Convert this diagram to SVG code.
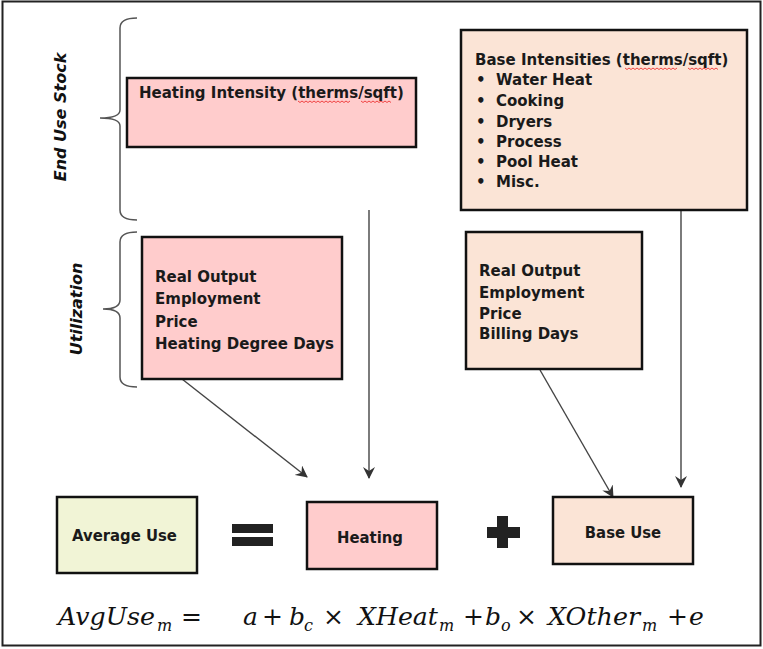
<svg xmlns="http://www.w3.org/2000/svg" width="763" height="649" viewBox="0 0 763 649">
<defs>
<style>
.box{stroke:#111;stroke-width:2.5}
.pink{fill:#FFCCCC}
.peach{fill:#FBE4D6}
.green{fill:#F1F4D6}
.t{font-family:"DejaVu Sans","Verdana",sans-serif;font-weight:bold;font-size:15px;fill:#1a1a1a}
.tb{font-family:"DejaVu Sans Condensed","DejaVu Sans",sans-serif;font-weight:bold;font-size:16.5px;fill:#1a1a1a}
.side{font-family:"DejaVu Sans",sans-serif;font-weight:bold;font-style:italic;font-size:16px;fill:#111}
.brace{fill:none;stroke:#555;stroke-width:1.5}
.conn{fill:none;stroke:#444;stroke-width:1.4}
.f{font-family:"DejaVu Serif","Liberation Serif",serif;font-style:italic;font-size:25px;fill:#111}
.fs{font-family:"DejaVu Serif","Liberation Serif",serif;font-style:italic;font-size:16px;fill:#111}
.op{font-family:"DejaVu Serif","Liberation Serif",serif;font-size:25px;fill:#111}
.sq{fill:none;stroke:#e33;stroke-width:0.9}
</style>
<marker id="arr" viewBox="0 0 12 12" refX="11" refY="6" markerWidth="12" markerHeight="12" markerUnits="userSpaceOnUse" orient="auto">
<path d="M0,0 L12,6 L0,12 L4,6 z" fill="#333"/>
</marker>
</defs>
<rect x="0" y="0" width="763" height="649" fill="#fff"/>
<rect x="2.5" y="1.5" width="758" height="644" fill="none" stroke="#222" stroke-width="2"/>

<g id="braces">
<path class="brace" d="M137,18 Q120,18 120,28 L120,110 Q120,118 100,118 Q120,118 120,126 L120,210 Q120,220 137,220"/>
<path class="brace" d="M137,232 Q120,232 120,242 L120,300 Q120,309 103,309 Q120,309 120,318 L120,377 Q120,387 137,387"/>
<text class="side" transform="translate(60,117) rotate(-90)" text-anchor="middle" dominant-baseline="central">End Use Stock</text>
<text class="side" transform="translate(76,309) rotate(-90)" text-anchor="middle" dominant-baseline="central">Utilization</text>
</g>

<g id="connectors">
<line class="conn" x1="182" y1="379" x2="307" y2="477" marker-end="url(#arr)"/>
<line class="conn" x1="369" y1="210" x2="369" y2="478" marker-end="url(#arr)"/>
<line class="conn" x1="540" y1="370" x2="613" y2="497" marker-end="url(#arr)"/>
<line class="conn" x1="681" y1="210" x2="681" y2="487" marker-end="url(#arr)"/>
</g>

<g id="heating-intensity">
<rect class="box pink" x="127" y="78" width="289" height="69"/>
<text class="t" x="139" y="98">Heating Intensity (therms/sqft)</text>
<path class="sq" d="M298,101 l2,1.5 l2,-1.5 l2,1.5 l2,-1.5 l2,1.5 l2,-1.5 l2,1.5 l2,-1.5 l2,1.5 l2,-1.5 l2,1.5 l2,-1.5 l2,1.5 l2,-1.5 l2,1.5 l2,-1.5 l2,1.5 l2,-1.5 l2,1.5 l2,-1.5 l2,1.5 l2,-1.5 l2,1.5 l2,-1.5 l2,1.5 l2,-1.5"/>
<path class="sq" d="M361,101 l2,1.5 l2,-1.5 l2,1.5 l2,-1.5 l2,1.5 l2,-1.5 l2,1.5 l2,-1.5 l2,1.5 l2,-1.5 l2,1.5 l2,-1.5 l2,1.5 l2,-1.5 l2,1.5"/>
</g>

<g id="base-intensities">
<rect class="box peach" x="461" y="30" width="286" height="180"/>
<text class="t" x="475" y="65">Base Intensities (therms/sqft)</text>
<path class="sq" d="M625,68 l2,1.5 l2,-1.5 l2,1.5 l2,-1.5 l2,1.5 l2,-1.5 l2,1.5 l2,-1.5 l2,1.5 l2,-1.5 l2,1.5 l2,-1.5 l2,1.5 l2,-1.5 l2,1.5 l2,-1.5 l2,1.5 l2,-1.5 l2,1.5 l2,-1.5 l2,1.5 l2,-1.5 l2,1.5 l2,-1.5 l2,1.5 l2,-1.5"/>
<path class="sq" d="M688,68 l2,1.5 l2,-1.5 l2,1.5 l2,-1.5 l2,1.5 l2,-1.5 l2,1.5 l2,-1.5 l2,1.5 l2,-1.5 l2,1.5 l2,-1.5 l2,1.5 l2,-1.5 l2,1.5"/>
<g class="t">
<text x="476" y="85">•</text><text x="496" y="85">Water Heat</text>
<text x="476" y="106">•</text><text x="496" y="106">Cooking</text>
<text x="476" y="127">•</text><text x="496" y="127">Dryers</text>
<text x="476" y="147">•</text><text x="496" y="147">Process</text>
<text x="476" y="167">•</text><text x="496" y="167">Pool Heat</text>
<text x="476" y="187">•</text><text x="496" y="187">Misc.</text>
</g>
</g>

<g id="heating-utilization">
<rect class="box pink" x="142" y="237" width="200" height="142"/>
<g class="t">
<text x="155" y="282">Real Output</text>
<text x="155" y="304">Employment</text>
<text x="155" y="327">Price</text>
<text x="155" y="349">Heating Degree Days</text>
</g>
</g>

<g id="base-utilization">
<rect class="box peach" x="466" y="232" width="176" height="137"/>
<g class="t">
<text x="479" y="276">Real Output</text>
<text x="479" y="298">Employment</text>
<text x="479" y="319">Price</text>
<text x="479" y="339">Billing Days</text>
</g>
</g>

<g id="average-use">
<rect class="box green" x="57" y="497" width="140" height="76"/>
<text class="tb" x="124.5" y="541" text-anchor="middle">Average Use</text>
</g>

<g id="equals">
<rect x="232" y="524" width="41" height="9" fill="#222"/>
<rect x="232" y="537" width="41" height="9" fill="#222"/>
</g>

<g id="heating">
<rect class="box pink" x="307" y="502" width="130" height="67"/>
<text class="tb" x="370" y="543" text-anchor="middle">Heating</text>
</g>

<g id="plus">
<rect x="497" y="516" width="11" height="32" fill="#222"/>
<rect x="487" y="527" width="33" height="11" fill="#222"/>
</g>

<g id="base-use">
<rect class="box peach" x="553" y="497" width="140" height="67"/>
<text class="tb" x="623" y="538" text-anchor="middle">Base Use</text>
</g>

<g id="formula">
<text class="f" x="58" y="625" textLength="97" lengthAdjust="spacingAndGlyphs">AvgUse</text>
<text class="fs" x="157" y="631">m</text>
<text class="op" x="181" y="625">=</text>
<text class="f" x="243" y="625">a</text>
<text class="op" x="262" y="625">+</text>
<text class="f" x="289" y="625">b</text>
<text class="fs" x="304" y="631">c</text>
<text class="op" x="323" y="625">×</text>
<text class="f" x="358" y="625" textLength="80" lengthAdjust="spacingAndGlyphs">XHeat</text>
<text class="fs" x="439" y="631">m</text>
<text class="op" x="463" y="625">+</text>
<text class="f" x="485" y="625">b</text>
<text class="fs" x="501" y="631">o</text>
<text class="op" x="516" y="625">×</text>
<text class="f" x="548" y="625" textLength="92" lengthAdjust="spacingAndGlyphs">XOther</text>
<text class="fs" x="642" y="631">m</text>
<text class="op" x="667" y="625">+</text>
<text class="f" x="689" y="625">e</text>
</g>
</svg>
